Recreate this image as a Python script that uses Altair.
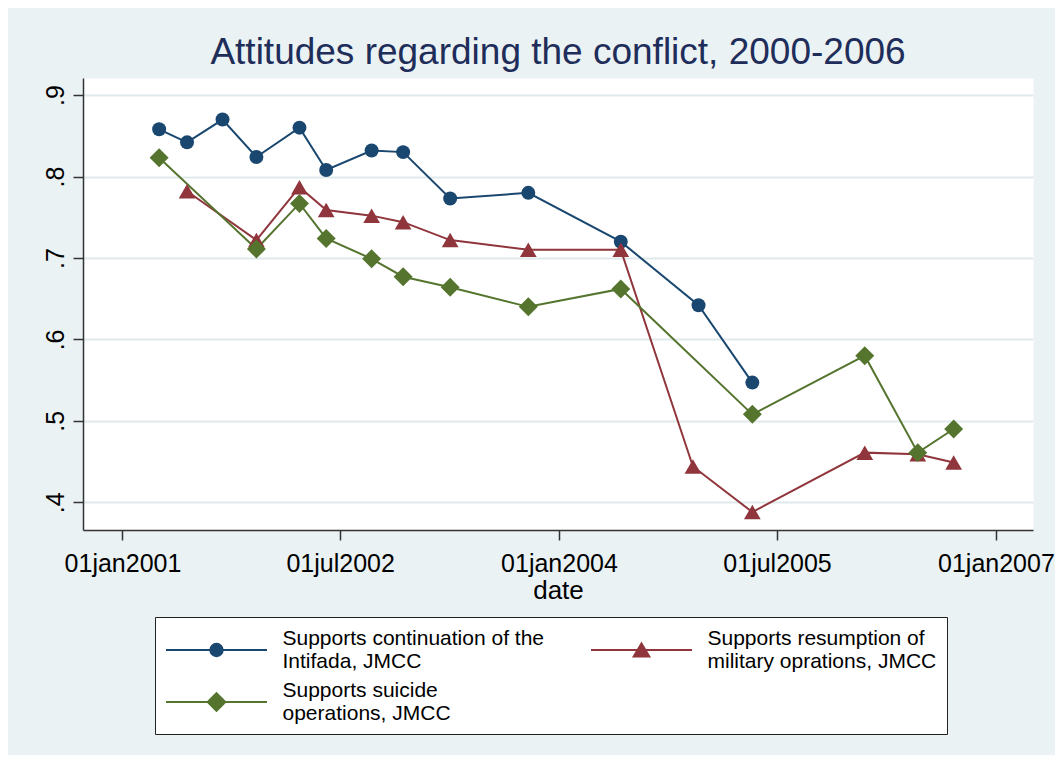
import altair as alt
import pandas as pd

# ---------------- data ----------------
series_names = [
    "Supports continuation of the Intifada, JMCC",
    "Supports resumption of military oprations, JMCC",
    "Supports suicide operations, JMCC",
]
legend_lines = [
    ["Supports continuation of the", "Intifada, JMCC"],
    ["Supports resumption of", "military oprations, JMCC"],
    ["Supports suicide", "operations, JMCC"],
]

intifada_dates = ["2001-04-03", "2001-06-12", "2001-09-09", "2001-12-03", "2002-03-21",
                  "2002-05-27", "2002-09-18", "2002-12-06", "2003-04-03", "2003-10-16",
                  "2004-06-04", "2004-12-16", "2005-04-30"]
intifada_values = [0.858, 0.842, 0.870, 0.824, 0.860, 0.808, 0.832, 0.830, 0.773, 0.780,
                   0.720, 0.642, 0.547]

military_dates = ["2001-06-12", "2001-12-03", "2002-03-21", "2002-05-27", "2002-09-18",
                  "2002-12-06", "2003-04-03", "2003-10-16", "2004-06-04", "2004-12-02",
                  "2005-04-30", "2006-02-06", "2006-06-19", "2006-09-17"]
military_values = [0.782, 0.722, 0.787, 0.759, 0.752, 0.744, 0.722, 0.710, 0.710, 0.444,
                   0.388, 0.461, 0.459, 0.449]

suicide_dates = ["2001-04-03", "2001-12-03", "2002-03-21", "2002-05-27", "2002-09-18",
                 "2002-12-06", "2003-04-03", "2003-10-16", "2004-06-04", "2005-04-30",
                 "2006-02-06", "2006-06-19", "2006-09-17"]
suicide_values = [0.823, 0.711, 0.767, 0.724, 0.699, 0.677, 0.664, 0.640, 0.662, 0.508,
                  0.580, 0.461, 0.490]

y_ticks = [0.4, 0.5, 0.6, 0.7, 0.8, 0.9]
x_ticks = [(2001, 1), (2002, 7), (2004, 1), (2005, 7), (2007, 1)]

# ---------------- styles ----------------
colors = ["#1A476F", "#90353B", "#55752F"]
shapes = ["circle", "triangle-up", "diamond"]
marker_sizes = [195, 280, 360]
FONT = "Liberation Sans, Arial, Helvetica, sans-serif"

# legend symbols: horizontal line with a solid-looking marker built from nested outlines
U = 22.0          # px per path unit (legend symbolSize = (2*U)^2)
HALF_LINE = 50.5  # px


def f(v):
    return ("%.4f" % v).rstrip("0").rstrip(".")


def line_part():
    return "M%s,0L%s,0" % (f(-HALF_LINE / U), f(HALF_LINE / U))


def circle_path(r_px):
    parts = [line_part()]
    r = r_px
    while r > 0.2:
        ru = r / U
        parts.append("M%s,0A%s,%s,0,1,1,%s,0A%s,%s,0,1,1,%s,0" % (f(ru), f(ru), f(ru), f(-ru), f(ru), f(ru), f(ru)))
        r -= 1.4
    return "".join(parts)


def poly_path(pts_px, steps):
    parts = [line_part()]
    for k in range(steps):
        s = 1 - k / steps
        pts = [(x * s / U, y * s / U) for x, y in pts_px]
        parts.append("M" + "L".join("%s,%s" % (f(x), f(y)) for x, y in pts) + "Z")
    return "".join(parts)


legend_paths = [
    circle_path(6.2),
    poly_path([(0, -6.6), (7.8, 6.6), (-7.8, 6.6)], 6),
    poly_path([(0, -8.8), (8.8, 0), (0, 8.8), (-8.8, 0)], 7),
]

# legend grid fills column by column: order entries so rows read (blue, red) / (green)
legend_order = [0, 2, 1]
dom = [series_names[i] for i in legend_order]
dom_colors = [colors[i] for i in legend_order]
dom_paths = [legend_paths[i] for i in legend_order]

rows = []
for name, ds, vs in zip(series_names,
                        [intifada_dates, military_dates, suicide_dates],
                        [intifada_values, military_values, suicide_values]):
    for d, v in zip(ds, vs):
        rows.append({"date": d, "value": v, "series": name})
df = pd.DataFrame(rows)

label_expr = ""
for name, lines in zip(series_names[:-1], legend_lines[:-1]):
    label_expr += "datum.label == '%s' ? ['%s', '%s'] : " % (name, lines[0], lines[1])
label_expr += "['%s', '%s']" % (legend_lines[-1][0], legend_lines[-1][1])

x_enc = alt.X(
    "date:T",
    title="date",
    scale=alt.Scale(type="utc",
                    domain=[alt.DateTime(year=2000, month=9, date=24, utc=True),
                            alt.DateTime(year=2007, month=4, date=4, utc=True)]),
    axis=alt.Axis(
        values=[alt.DateTime(year=y, month=m, date=1, utc=True) for y, m in x_ticks],
        labelExpr="lower(utcFormat(datum.value, '%d%b%Y'))",
        grid=False,
    ),
)
y_enc = alt.Y(
    "value:Q",
    title=None,
    scale=alt.Scale(domain=[0.366, 0.921], nice=False, zero=False),
    axis=alt.Axis(
        values=y_ticks,
        labelExpr="replace(format(datum.value, '.1f'), '0.', '.')",
        grid=True,
        gridColor="#DFE9EC",
        gridWidth=2,
        labelAngle=270,
        labelAlign="center",
        labelBaseline="bottom",
        labelPadding=5,
    ),
)

base = alt.Chart(df)

leg = alt.Legend(
    title=None,
    labelExpr=label_expr,
    orient="none",
    legendX=72,
    legendY=539,
    columns=2,
    padding=10,
    fillColor="white",
    strokeColor="#222222",
    labelFontSize=21,
    labelLimit=600,
    labelBaseline="line-bottom",
    labelOffset=43,
    symbolOffset=28.5,
    symbolSize=(2 * U) ** 2,
    symbolStrokeWidth=2,
    rowPadding=7,
    columnPadding=41,
)

lines = base.mark_line(strokeWidth=2).encode(
    x=x_enc,
    y=y_enc,
    color=alt.Color("series:N", scale=alt.Scale(domain=dom, range=dom_colors), legend=leg),
)

point_layers = []
for name, col, shp, sz in zip(series_names, colors, shapes, marker_sizes):
    point_layers.append(
        base.transform_filter(alt.datum.series == name)
        .mark_point(filled=True, shape=shp, size=sz, color=col, opacity=1)
        .encode(x=x_enc, y=y_enc)
    )

legend_layer = base.mark_point(opacity=0, size=4).encode(
    x=x_enc,
    y=y_enc,
    shape=alt.Shape("series:N", scale=alt.Scale(domain=dom, range=dom_paths), legend=leg),
)

chart = alt.layer(lines, *point_layers, legend_layer).properties(
    width=950,
    height=452,
    title=alt.Title(
        "Attitudes regarding the conflict, 2000-2006",
        fontSize=37,
        font=FONT,
        fontWeight="normal",
        color="#1E2D5A",
        anchor="middle",
        frame="group",
        offset=6,
    ),
    background="#EAF2F3",
    padding={"left": 75, "top": 70, "right": 22, "bottom": 225},
    autosize=alt.AutoSizeParams(type="none"),
).configure_view(
    fill="white", stroke="transparent"
).configure_axis(
    labelFont=FONT,
    labelFontSize=25,
    labelColor="black",
    titleFont=FONT,
    titleFontSize=26,
    titleFontWeight="normal",
    titleColor="black",
    domainColor="#333333",
    domainWidth=1.5,
    tickColor="#333333",
    tickWidth=1.5,
    tickSize=10,
    labelFlush=False,
    labelOverlap=False,
).configure_axisX(
    labelPadding=11,
    titlePadding=1,
).configure_legend(
    labelFont=FONT,
    labelColor="black",
)

chart.save("out.html", embed_options={"renderer": "svg", "actions": False})
